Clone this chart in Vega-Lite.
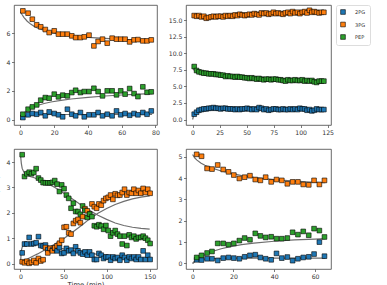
{
  "$schema": "https://vega.github.io/schema/vega-lite/v6.json",
  "padding": {"left": -7, "top": 4, "right": 0, "bottom": 0},
  "background": "white",
  "config": {
    "font": "DejaVu Sans",
    "view": {"stroke": "#444", "strokeWidth": 0.8},
    "axis": {"grid": false, "domain": false, "tickCount": 20, "format": "d", "labelOverlap": false, "labelFlush": false, "labelFontSize": 6.2, "labelColor": "#333", "tickColor": "#444", "tickSize": 2.5, "tickWidth": 0.7, "labelPadding": 1.5, "titleFontSize": 6.8, "titleFontWeight": "normal", "titleColor": "#222"},
    "legend": {"orient": "right", "offset": 2, "padding": 4, "strokeColor": "#dddddd", "cornerRadius": 2, "fillColor": "white", "symbolType": "square", "symbolSize": 22, "symbolStrokeColor": "black", "symbolStrokeWidth": 0.6, "symbolOpacity": 1, "labelFontSize": 5, "labelColor": "#333", "labelOffset": 9, "rowPadding": 4.5}
  },
  "datasets": {
    "pts": [
      {"p":1,"t":1.4,"2PG":0.14,"3PG":7.57,"PEP":0.37},
      {"p":1,"t":4.5,"2PG":0.33,"3PG":7.41,"PEP":0.72},
      {"p":1,"t":7.0,"2PG":0.42,"3PG":6.99,"PEP":0.88},
      {"p":1,"t":9.6,"2PG":0.37,"3PG":6.6,"PEP":1.02},
      {"p":1,"t":12.0,"2PG":0.49,"3PG":6.46,"PEP":1.35},
      {"p":1,"t":14.7,"2PG":0.26,"3PG":6.27,"PEP":1.53},
      {"p":1,"t":17.0,"2PG":0.53,"3PG":6.06,"PEP":1.49},
      {"p":1,"t":20.0,"2PG":0.42,"3PG":6.18,"PEP":1.77},
      {"p":1,"t":22.5,"2PG":0.33,"3PG":5.95,"PEP":1.58},
      {"p":1,"t":25.0,"2PG":0.19,"3PG":5.95,"PEP":1.7},
      {"p":1,"t":27.8,"2PG":0.72,"3PG":5.95,"PEP":1.65},
      {"p":1,"t":30.4,"2PG":0.37,"3PG":5.83,"PEP":1.88},
      {"p":1,"t":32.7,"2PG":0.26,"3PG":5.71,"PEP":2.04},
      {"p":1,"t":35.5,"2PG":0.49,"3PG":5.71,"PEP":1.88},
      {"p":1,"t":37.8,"2PG":0.19,"3PG":5.76,"PEP":1.95},
      {"p":1,"t":40.6,"2PG":0.33,"3PG":5.88,"PEP":1.95},
      {"p":1,"t":43.5,"2PG":0.33,"3PG":5.13,"PEP":2.18},
      {"p":1,"t":46.0,"2PG":0.49,"3PG":5.44,"PEP":1.95},
      {"p":1,"t":48.6,"2PG":0.26,"3PG":5.6,"PEP":1.65},
      {"p":1,"t":51.4,"2PG":0.37,"3PG":5.32,"PEP":2.0},
      {"p":1,"t":54.3,"2PG":0.26,"3PG":5.67,"PEP":2.0},
      {"p":1,"t":56.9,"2PG":0.6,"3PG":5.6,"PEP":1.72},
      {"p":1,"t":59.4,"2PG":0.33,"3PG":5.6,"PEP":2.0},
      {"p":1,"t":62.0,"2PG":0.42,"3PG":5.6,"PEP":1.77},
      {"p":1,"t":64.7,"2PG":0.3,"3PG":5.41,"PEP":2.16},
      {"p":1,"t":67.3,"2PG":0.42,"3PG":5.55,"PEP":1.81},
      {"p":1,"t":69.6,"2PG":0.33,"3PG":5.57,"PEP":1.6},
      {"p":1,"t":72.5,"2PG":0.49,"3PG":5.48,"PEP":2.28},
      {"p":1,"t":75.0,"2PG":0.37,"3PG":5.48,"PEP":1.9},
      {"p":1,"t":77.5,"2PG":0.6,"3PG":5.55,"PEP":1.93},

      {"p":2,"t":1.5,"2PG":0.8,"3PG":15.7,"PEP":8.0},
      {"p":2,"t":3.7,"2PG":1.1,"3PG":15.6,"PEP":7.4},
      {"p":2,"t":5.9,"2PG":1.4,"3PG":15.7,"PEP":7.2},
      {"p":2,"t":8.2,"2PG":1.5,"3PG":15.5,"PEP":7.1},
      {"p":2,"t":10.4,"2PG":1.6,"3PG":15.6,"PEP":7.0},
      {"p":2,"t":12.6,"2PG":1.6,"3PG":15.3,"PEP":7.0},
      {"p":2,"t":14.8,"2PG":1.7,"3PG":15.4,"PEP":6.9},
      {"p":2,"t":17.1,"2PG":1.7,"3PG":15.5,"PEP":6.9},
      {"p":2,"t":19.3,"2PG":1.8,"3PG":15.6,"PEP":6.9},
      {"p":2,"t":21.5,"2PG":1.7,"3PG":15.5,"PEP":6.8},
      {"p":2,"t":23.7,"2PG":1.7,"3PG":15.6,"PEP":6.8},
      {"p":2,"t":25.9,"2PG":1.6,"3PG":15.6,"PEP":6.7},
      {"p":2,"t":28.2,"2PG":1.7,"3PG":15.5,"PEP":6.7},
      {"p":2,"t":30.4,"2PG":1.7,"3PG":15.7,"PEP":6.5},
      {"p":2,"t":32.6,"2PG":1.6,"3PG":15.6,"PEP":6.6},
      {"p":2,"t":34.8,"2PG":1.6,"3PG":15.7,"PEP":6.5},
      {"p":2,"t":37.1,"2PG":1.6,"3PG":15.6,"PEP":6.5},
      {"p":2,"t":39.3,"2PG":1.5,"3PG":15.8,"PEP":6.4},
      {"p":2,"t":41.5,"2PG":1.6,"3PG":15.7,"PEP":6.5},
      {"p":2,"t":43.7,"2PG":1.5,"3PG":15.9,"PEP":6.4},
      {"p":2,"t":45.9,"2PG":1.6,"3PG":15.8,"PEP":6.4},
      {"p":2,"t":48.2,"2PG":1.6,"3PG":15.7,"PEP":6.3},
      {"p":2,"t":50.4,"2PG":1.7,"3PG":15.8,"PEP":6.3},
      {"p":2,"t":52.6,"2PG":1.6,"3PG":15.9,"PEP":6.2},
      {"p":2,"t":54.8,"2PG":1.5,"3PG":15.8,"PEP":6.3},
      {"p":2,"t":57.1,"2PG":1.6,"3PG":16.0,"PEP":6.2},
      {"p":2,"t":59.3,"2PG":1.5,"3PG":15.9,"PEP":6.1},
      {"p":2,"t":61.5,"2PG":1.8,"3PG":15.8,"PEP":6.2},
      {"p":2,"t":63.7,"2PG":1.7,"3PG":16.1,"PEP":6.1},
      {"p":2,"t":65.9,"2PG":1.5,"3PG":16.0,"PEP":6.0},
      {"p":2,"t":68.2,"2PG":1.6,"3PG":16.1,"PEP":6.1},
      {"p":2,"t":70.4,"2PG":1.4,"3PG":15.9,"PEP":6.1},
      {"p":2,"t":72.6,"2PG":1.5,"3PG":16.0,"PEP":6.0},
      {"p":2,"t":74.8,"2PG":1.6,"3PG":16.2,"PEP":6.1},
      {"p":2,"t":77.1,"2PG":1.6,"3PG":16.0,"PEP":6.1},
      {"p":2,"t":79.3,"2PG":1.5,"3PG":16.1,"PEP":6.0},
      {"p":2,"t":81.5,"2PG":1.5,"3PG":16.0,"PEP":6.0},
      {"p":2,"t":83.7,"2PG":1.6,"3PG":15.9,"PEP":5.9},
      {"p":2,"t":85.9,"2PG":1.5,"3PG":16.1,"PEP":5.8},
      {"p":2,"t":88.2,"2PG":1.5,"3PG":16.2,"PEP":6.0},
      {"p":2,"t":90.4,"2PG":1.6,"3PG":16.0,"PEP":5.9},
      {"p":2,"t":92.6,"2PG":1.5,"3PG":16.3,"PEP":5.9},
      {"p":2,"t":94.8,"2PG":1.6,"3PG":16.1,"PEP":6.0},
      {"p":2,"t":97.1,"2PG":1.5,"3PG":16.2,"PEP":5.9},
      {"p":2,"t":99.3,"2PG":1.7,"3PG":16.0,"PEP":5.9},
      {"p":2,"t":101.5,"2PG":1.6,"3PG":16.2,"PEP":6.0},
      {"p":2,"t":103.7,"2PG":1.6,"3PG":16.3,"PEP":5.8},
      {"p":2,"t":105.9,"2PG":1.4,"3PG":16.1,"PEP":5.9},
      {"p":2,"t":108.2,"2PG":1.5,"3PG":16.5,"PEP":5.8},
      {"p":2,"t":110.4,"2PG":1.3,"3PG":16.2,"PEP":5.9},
      {"p":2,"t":112.6,"2PG":1.4,"3PG":16.3,"PEP":5.7},
      {"p":2,"t":114.8,"2PG":1.6,"3PG":16.2,"PEP":5.6},
      {"p":2,"t":117.1,"2PG":1.5,"3PG":16.1,"PEP":5.8},
      {"p":2,"t":119.3,"2PG":1.5,"3PG":16.2,"PEP":5.8},
      {"p":2,"t":121.5,"2PG":1.5,"3PG":16.2,"PEP":5.8},

      {"p":3,"t":2.0,"2PG":0.42,"3PG":0.07,"PEP":4.29},
      {"p":3,"t":4.7,"2PG":0.77,"3PG":0.03,"PEP":3.43},
      {"p":3,"t":7.4,"2PG":0.77,"3PG":0.09,"PEP":3.54},
      {"p":3,"t":10.1,"2PG":1.03,"3PG":0.01,"PEP":3.6},
      {"p":3,"t":12.8,"2PG":0.77,"3PG":0.05,"PEP":3.54},
      {"p":3,"t":15.5,"2PG":0.79,"3PG":0.12,"PEP":3.59},
      {"p":3,"t":18.2,"2PG":0.82,"3PG":0.03,"PEP":3.74},
      {"p":3,"t":20.9,"2PG":1.06,"3PG":0.2,"PEP":3.37},
      {"p":3,"t":23.6,"2PG":0.71,"3PG":0.1,"PEP":3.29},
      {"p":3,"t":26.3,"2PG":0.69,"3PG":0.15,"PEP":3.19},
      {"p":3,"t":29.0,"2PG":0.73,"3PG":0.63,"PEP":3.18},
      {"p":3,"t":31.7,"2PG":0.55,"3PG":0.42,"PEP":3.18},
      {"p":3,"t":34.4,"2PG":0.6,"3PG":0.6,"PEP":3.18},
      {"p":3,"t":37.1,"2PG":0.53,"3PG":0.5,"PEP":3.2},
      {"p":3,"t":39.8,"2PG":0.6,"3PG":0.62,"PEP":3.27},
      {"p":3,"t":42.5,"2PG":0.5,"3PG":0.7,"PEP":3.13},
      {"p":3,"t":45.2,"2PG":0.63,"3PG":0.8,"PEP":2.84},
      {"p":3,"t":47.9,"2PG":0.4,"3PG":0.92,"PEP":3.1},
      {"p":3,"t":50.6,"2PG":0.42,"3PG":1.43,"PEP":2.95},
      {"p":3,"t":53.3,"2PG":0.6,"3PG":1.45,"PEP":2.7},
      {"p":3,"t":56.0,"2PG":0.5,"3PG":1.21,"PEP":2.57},
      {"p":3,"t":58.7,"2PG":0.53,"3PG":1.16,"PEP":2.18},
      {"p":3,"t":61.4,"2PG":0.4,"3PG":1.58,"PEP":2.38},
      {"p":3,"t":64.1,"2PG":0.66,"3PG":1.69,"PEP":2.05},
      {"p":3,"t":66.8,"2PG":0.5,"3PG":1.74,"PEP":2.05},
      {"p":3,"t":69.5,"2PG":0.42,"3PG":1.61,"PEP":1.94},
      {"p":3,"t":72.2,"2PG":0.37,"3PG":1.85,"PEP":2.27},
      {"p":3,"t":74.9,"2PG":0.46,"3PG":2.16,"PEP":2.1},
      {"p":3,"t":77.6,"2PG":0.33,"3PG":2.08,"PEP":1.82},
      {"p":3,"t":80.3,"2PG":0.46,"3PG":1.95,"PEP":1.95},
      {"p":3,"t":83.0,"2PG":0.33,"3PG":2.35,"PEP":1.85},
      {"p":3,"t":85.7,"2PG":0.16,"3PG":2.24,"PEP":1.49},
      {"p":3,"t":88.4,"2PG":0.16,"3PG":2.18,"PEP":1.45},
      {"p":3,"t":91.1,"2PG":0.4,"3PG":2.35,"PEP":1.53},
      {"p":3,"t":93.8,"2PG":0.33,"3PG":2.3,"PEP":1.48},
      {"p":3,"t":96.5,"2PG":0.2,"3PG":2.48,"PEP":1.35},
      {"p":3,"t":99.2,"2PG":0.26,"3PG":2.57,"PEP":1.5},
      {"p":3,"t":101.9,"2PG":0.26,"3PG":2.61,"PEP":1.3},
      {"p":3,"t":104.6,"2PG":0.13,"3PG":2.7,"PEP":1.08},
      {"p":3,"t":107.3,"2PG":0.26,"3PG":2.53,"PEP":1.21},
      {"p":3,"t":110.0,"2PG":0.2,"3PG":2.75,"PEP":1.3},
      {"p":3,"t":112.7,"2PG":0.24,"3PG":2.69,"PEP":1.16},
      {"p":3,"t":115.4,"2PG":0.13,"3PG":2.7,"PEP":1.08},
      {"p":3,"t":118.1,"2PG":0.33,"3PG":2.8,"PEP":0.77},
      {"p":3,"t":120.8,"2PG":0.24,"3PG":2.93,"PEP":1.08},
      {"p":3,"t":123.5,"2PG":0.13,"3PG":2.7,"PEP":0.71},
      {"p":3,"t":126.2,"2PG":0.26,"3PG":2.8,"PEP":1.13},
      {"p":3,"t":128.9,"2PG":0.2,"3PG":2.77,"PEP":1.03},
      {"p":3,"t":131.6,"2PG":0.26,"3PG":2.93,"PEP":1.08},
      {"p":3,"t":134.3,"2PG":0.16,"3PG":2.77,"PEP":0.97},
      {"p":3,"t":137.0,"2PG":0.26,"3PG":2.88,"PEP":1.03},
      {"p":3,"t":139.7,"2PG":0.16,"3PG":2.77,"PEP":1.03},
      {"p":3,"t":142.4,"2PG":0.5,"3PG":2.96,"PEP":1.08},
      {"p":3,"t":145.1,"2PG":0.16,"3PG":2.8,"PEP":1.0},
      {"p":3,"t":147.8,"2PG":0.33,"3PG":2.93,"PEP":0.92},
      {"p":3,"t":150.5,"2PG":0.16,"3PG":2.77,"PEP":0.79},

      {"p":4,"t":2.0,"2PG":0.17,"3PG":5.11,"PEP":0.28},
      {"p":4,"t":4.4,"2PG":0.16,"3PG":5.02,"PEP":0.38},
      {"p":4,"t":7.1,"2PG":0.22,"3PG":4.45,"PEP":0.49},
      {"p":4,"t":9.5,"2PG":0.22,"3PG":4.42,"PEP":0.56},
      {"p":4,"t":12.3,"2PG":0.14,"3PG":4.61,"PEP":0.94},
      {"p":4,"t":15.0,"2PG":0.25,"3PG":4.4,"PEP":0.94},
      {"p":4,"t":17.6,"2PG":0.28,"3PG":4.29,"PEP":0.88},
      {"p":4,"t":20.2,"2PG":0.25,"3PG":4.14,"PEP":0.94},
      {"p":4,"t":22.9,"2PG":0.22,"3PG":3.98,"PEP":1.07},
      {"p":4,"t":25.5,"2PG":0.31,"3PG":4.04,"PEP":1.19},
      {"p":4,"t":28.1,"2PG":0.38,"3PG":4.11,"PEP":1.11},
      {"p":4,"t":30.7,"2PG":0.41,"3PG":3.93,"PEP":1.41},
      {"p":4,"t":33.2,"2PG":0.28,"3PG":3.89,"PEP":1.29},
      {"p":4,"t":35.8,"2PG":0.22,"3PG":4.04,"PEP":1.22},
      {"p":4,"t":38.5,"2PG":0.17,"3PG":3.82,"PEP":1.25},
      {"p":4,"t":41.1,"2PG":0.47,"3PG":3.93,"PEP":1.16},
      {"p":4,"t":43.7,"2PG":0.25,"3PG":3.89,"PEP":1.16},
      {"p":4,"t":46.4,"2PG":0.3,"3PG":3.73,"PEP":1.19},
      {"p":4,"t":49.0,"2PG":0.13,"3PG":3.82,"PEP":1.46},
      {"p":4,"t":51.6,"2PG":0.22,"3PG":3.82,"PEP":1.35},
      {"p":4,"t":54.2,"2PG":0.28,"3PG":3.7,"PEP":1.5},
      {"p":4,"t":56.9,"2PG":0.31,"3PG":3.68,"PEP":1.32},
      {"p":4,"t":59.5,"2PG":0.44,"3PG":3.89,"PEP":1.63},
      {"p":4,"t":62.1,"2PG":1.0,"3PG":3.7,"PEP":1.54},
      {"p":4,"t":64.6,"2PG":0.34,"3PG":3.89,"PEP":1.24}
    ],
    "fit": [
      {"p":1,"t":0,"2PG":0,"3PG":7.5,"PEP":0},
      {"p":1,"t":1,"2PG":0.12,"3PG":7.3,"PEP":0.3},
      {"p":1,"t":2,"2PG":0.2,"3PG":7.12,"PEP":0.45},
      {"p":1,"t":4,"2PG":0.27,"3PG":6.85,"PEP":0.65},
      {"p":1,"t":6,"2PG":0.3,"3PG":6.65,"PEP":0.8},
      {"p":1,"t":8,"2PG":0.32,"3PG":6.5,"PEP":0.9},
      {"p":1,"t":10,"2PG":0.33,"3PG":6.38,"PEP":0.98},
      {"p":1,"t":14,"2PG":0.34,"3PG":6.2,"PEP":1.12},
      {"p":1,"t":18,"2PG":0.35,"3PG":6.06,"PEP":1.22},
      {"p":1,"t":24,"2PG":0.35,"3PG":5.93,"PEP":1.34},
      {"p":1,"t":30,"2PG":0.35,"3PG":5.84,"PEP":1.43},
      {"p":1,"t":40,"2PG":0.35,"3PG":5.73,"PEP":1.55},
      {"p":1,"t":50,"2PG":0.35,"3PG":5.65,"PEP":1.64},
      {"p":1,"t":60,"2PG":0.35,"3PG":5.59,"PEP":1.71},
      {"p":1,"t":70,"2PG":0.35,"3PG":5.54,"PEP":1.77},
      {"p":1,"t":78,"2PG":0.35,"3PG":5.5,"PEP":1.81},

      {"p":2,"t":0,"2PG":0,"3PG":15.6,"PEP":8.3},
      {"p":2,"t":1,"2PG":0.6,"3PG":15.6,"PEP":7.6},
      {"p":2,"t":2,"2PG":0.95,"3PG":15.6,"PEP":7.3},
      {"p":2,"t":4,"2PG":1.3,"3PG":15.6,"PEP":7.15},
      {"p":2,"t":6,"2PG":1.45,"3PG":15.6,"PEP":7.08},
      {"p":2,"t":10,"2PG":1.55,"3PG":15.6,"PEP":7.0},
      {"p":2,"t":20,"2PG":1.6,"3PG":15.62,"PEP":6.8},
      {"p":2,"t":40,"2PG":1.59,"3PG":15.75,"PEP":6.45},
      {"p":2,"t":60,"2PG":1.57,"3PG":15.9,"PEP":6.2},
      {"p":2,"t":80,"2PG":1.55,"3PG":16.03,"PEP":6.05},
      {"p":2,"t":100,"2PG":1.53,"3PG":16.14,"PEP":5.92},
      {"p":2,"t":122,"2PG":1.52,"3PG":16.24,"PEP":5.82},

      {"p":3,"t":0,"2PG":0,"3PG":0,"PEP":4.3},
      {"p":3,"t":1,"2PG":0.5,"3PG":0.05,"PEP":3.95},
      {"p":3,"t":2,"2PG":0.65,"3PG":0.08,"PEP":3.75},
      {"p":3,"t":4,"2PG":0.73,"3PG":0.12,"PEP":3.6},
      {"p":3,"t":6,"2PG":0.76,"3PG":0.15,"PEP":3.52},
      {"p":3,"t":8,"2PG":0.77,"3PG":0.18,"PEP":3.47},
      {"p":3,"t":12,"2PG":0.77,"3PG":0.25,"PEP":3.42},
      {"p":3,"t":16,"2PG":0.76,"3PG":0.32,"PEP":3.38},
      {"p":3,"t":20,"2PG":0.74,"3PG":0.38,"PEP":3.33},
      {"p":3,"t":30,"2PG":0.69,"3PG":0.57,"PEP":3.18},
      {"p":3,"t":40,"2PG":0.64,"3PG":0.77,"PEP":3.0},
      {"p":3,"t":50,"2PG":0.58,"3PG":0.98,"PEP":2.78},
      {"p":3,"t":60,"2PG":0.52,"3PG":1.22,"PEP":2.55},
      {"p":3,"t":70,"2PG":0.46,"3PG":1.48,"PEP":2.32},
      {"p":3,"t":80,"2PG":0.41,"3PG":1.75,"PEP":2.1},
      {"p":3,"t":90,"2PG":0.36,"3PG":1.98,"PEP":1.9},
      {"p":3,"t":100,"2PG":0.32,"3PG":2.17,"PEP":1.74},
      {"p":3,"t":110,"2PG":0.28,"3PG":2.33,"PEP":1.6},
      {"p":3,"t":120,"2PG":0.25,"3PG":2.45,"PEP":1.5},
      {"p":3,"t":130,"2PG":0.22,"3PG":2.55,"PEP":1.43},
      {"p":3,"t":140,"2PG":0.2,"3PG":2.62,"PEP":1.39},
      {"p":3,"t":150,"2PG":0.18,"3PG":2.67,"PEP":1.36},

      {"p":4,"t":0,"2PG":0,"3PG":5.1,"PEP":0},
      {"p":4,"t":1,"2PG":0.08,"3PG":4.95,"PEP":0.1},
      {"p":4,"t":2,"2PG":0.13,"3PG":4.85,"PEP":0.18},
      {"p":4,"t":4,"2PG":0.18,"3PG":4.7,"PEP":0.3},
      {"p":4,"t":6,"2PG":0.2,"3PG":4.6,"PEP":0.4},
      {"p":4,"t":8,"2PG":0.22,"3PG":4.52,"PEP":0.5},
      {"p":4,"t":10,"2PG":0.23,"3PG":4.45,"PEP":0.57},
      {"p":4,"t":14,"2PG":0.24,"3PG":4.33,"PEP":0.69},
      {"p":4,"t":18,"2PG":0.25,"3PG":4.24,"PEP":0.78},
      {"p":4,"t":24,"2PG":0.25,"3PG":4.12,"PEP":0.88},
      {"p":4,"t":30,"2PG":0.25,"3PG":4.03,"PEP":0.95},
      {"p":4,"t":40,"2PG":0.25,"3PG":3.93,"PEP":1.04},
      {"p":4,"t":50,"2PG":0.25,"3PG":3.86,"PEP":1.1},
      {"p":4,"t":60,"2PG":0.25,"3PG":3.8,"PEP":1.14},
      {"p":4,"t":65,"2PG":0.25,"3PG":3.78,"PEP":1.16}
    ]
  },
  "columns": 2,
  "bounds": "flush",
  "spacing": {"row": 24, "column": 29},
  "concat": [
    {
      "width": 143, "height": 120,
      "layer": [
        {
          "data": {"name": "fit"},
          "transform": [{"filter": "datum.p == 1"}, {"fold": ["2PG", "3PG", "PEP"], "as": ["species", "c"]}],
          "mark": {"type": "line", "color": "#6e6e6e", "strokeWidth": 1.2},
          "encoding": {
            "x": {"field": "t", "type": "quantitative", "scale": {"domain": [-3.85, 80.9], "nice": false, "zero": false}, "axis": {"title": null, "values": [0, 20, 40, 60, 80]}},
            "y": {"field": "c", "type": "quantitative", "scale": {"domain": [-0.38, 7.98], "nice": false, "zero": false}, "axis": {"title": null, "values": [0, 2, 4, 6]}},
            "detail": {"field": "species"}
          }
        },
        {
          "data": {"name": "pts"},
          "transform": [{"filter": "datum.p == 1"}, {"fold": ["2PG", "3PG", "PEP"], "as": ["species", "c"]}],
          "mark": {"type": "point", "shape": "square", "filled": true, "size": 22, "stroke": "black", "strokeWidth": 0.6, "opacity": 1},
          "encoding": {
            "x": {"field": "t", "type": "quantitative"},
            "y": {"field": "c", "type": "quantitative"},
            "color": {"field": "species", "type": "nominal", "scale": {"domain": ["2PG", "3PG", "PEP"], "range": ["#1f77b4", "#ff7f0e", "#2ca02c"]}, "legend": {"title": null}}
          }
        }
      ]
    },
    {
      "width": 145, "height": 120,
      "layer": [
        {
          "data": {"name": "fit"},
          "transform": [{"filter": "datum.p == 2"}, {"fold": ["2PG", "3PG", "PEP"], "as": ["species", "c"]}],
          "mark": {"type": "line", "color": "#6e6e6e", "strokeWidth": 1.2},
          "encoding": {
            "x": {"field": "t", "type": "quantitative", "scale": {"domain": [-6.1, 128.1], "nice": false, "zero": false}, "axis": {"title": null, "values": [0, 25, 50, 75, 100, 125]}},
            "y": {"field": "c", "type": "quantitative", "scale": {"domain": [-0.83, 17.3], "nice": false, "zero": false}, "axis": {"title": null, "values": [0, 2.5, 5, 7.5, 10, 12.5, 15], "format": ".1f"}},
            "detail": {"field": "species"}
          }
        },
        {
          "data": {"name": "pts"},
          "transform": [{"filter": "datum.p == 2"}, {"fold": ["2PG", "3PG", "PEP"], "as": ["species", "c"]}],
          "mark": {"type": "point", "shape": "square", "filled": true, "size": 22, "stroke": "black", "strokeWidth": 0.6, "opacity": 1},
          "encoding": {
            "x": {"field": "t", "type": "quantitative"},
            "y": {"field": "c", "type": "quantitative"},
            "color": {"field": "species", "type": "nominal"}
          }
        }
      ]
    },
    {
      "width": 143, "height": 120,
      "layer": [
        {
          "data": {"name": "fit"},
          "transform": [{"filter": "datum.p == 3"}, {"fold": ["2PG", "3PG", "PEP"], "as": ["species", "c"]}],
          "mark": {"type": "line", "color": "#6e6e6e", "strokeWidth": 1.2},
          "encoding": {
            "x": {"field": "t", "type": "quantitative", "scale": {"domain": [-7.5, 158.5], "nice": false, "zero": false}, "axis": {"title": "Time (min)", "values": [0, 50, 100, 150], "titlePadding": 2}},
            "y": {"field": "c", "type": "quantitative", "scale": {"domain": [-0.215, 4.515], "nice": false, "zero": false}, "axis": {"title": "Concentration (mM)", "values": [0, 1, 2, 3, 4], "titlePadding": 6.5}},
            "detail": {"field": "species"}
          }
        },
        {
          "data": {"name": "pts"},
          "transform": [{"filter": "datum.p == 3"}, {"fold": ["2PG", "3PG", "PEP"], "as": ["species", "c"]}],
          "mark": {"type": "point", "shape": "square", "filled": true, "size": 22, "stroke": "black", "strokeWidth": 0.6, "opacity": 1},
          "encoding": {
            "x": {"field": "t", "type": "quantitative"},
            "y": {"field": "c", "type": "quantitative"},
            "color": {"field": "species", "type": "nominal"}
          }
        }
      ]
    },
    {
      "width": 145, "height": 120,
      "layer": [
        {
          "data": {"name": "fit"},
          "transform": [{"filter": "datum.p == 4"}, {"fold": ["2PG", "3PG", "PEP"], "as": ["species", "c"]}],
          "mark": {"type": "line", "color": "#6e6e6e", "strokeWidth": 1.2},
          "encoding": {
            "x": {"field": "t", "type": "quantitative", "scale": {"domain": [-3.23, 67.8], "nice": false, "zero": false}, "axis": {"title": null, "values": [0, 20, 40, 60]}},
            "y": {"field": "c", "type": "quantitative", "scale": {"domain": [-0.26, 5.36], "nice": false, "zero": false}, "axis": {"title": null, "values": [0, 1, 2, 3, 4, 5]}},
            "detail": {"field": "species"}
          }
        },
        {
          "data": {"name": "pts"},
          "transform": [{"filter": "datum.p == 4"}, {"fold": ["2PG", "3PG", "PEP"], "as": ["species", "c"]}],
          "mark": {"type": "point", "shape": "square", "filled": true, "size": 22, "stroke": "black", "strokeWidth": 0.6, "opacity": 1},
          "encoding": {
            "x": {"field": "t", "type": "quantitative"},
            "y": {"field": "c", "type": "quantitative"},
            "color": {"field": "species", "type": "nominal"}
          }
        }
      ]
    }
  ]
}
